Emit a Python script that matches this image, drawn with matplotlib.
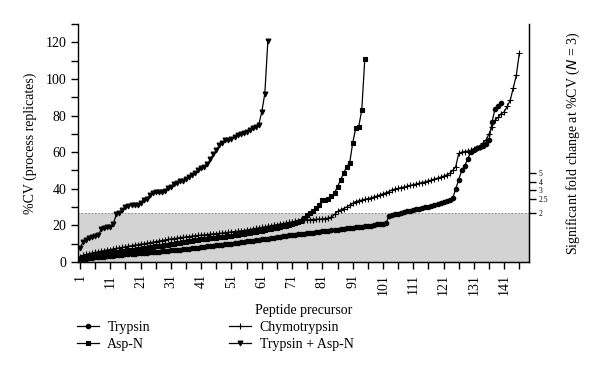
import numpy as np
import matplotlib.pyplot as plt
from matplotlib.ticker import MultipleLocator, FixedLocator

# %CV per peptide precursor, sorted ascending
trypsin = [1.2, 1.6, 1.9, 2.1, 2.3, 2.5, 2.7, 2.9, 3.0, 3.2,
           3.3, 3.5, 3.6, 3.8, 3.9, 4.1, 4.2, 4.4, 4.5, 4.7,
           4.8, 5.0, 5.1, 5.3, 5.4, 5.6, 5.7, 5.9, 6.0, 6.2,
           6.3, 6.5, 6.6, 6.8, 7.0, 7.1, 7.3, 7.5, 7.7, 7.9,
           8.1, 8.3, 8.5, 8.7, 8.9, 9.1, 9.3, 9.5, 9.7, 9.9,
           10.1, 10.3, 10.6, 10.8, 11.0, 11.3, 11.5, 11.7, 12.0, 12.2,
           12.4, 12.6, 12.8, 13.0, 13.3, 13.5, 13.8, 14.0, 14.2, 14.5,
           14.7, 14.9, 15.1, 15.3, 15.5, 15.7, 15.9, 16.1, 16.3, 16.5,
           16.7, 16.9, 17.1, 17.3, 17.5, 17.7, 17.9, 18.1, 18.3, 18.5,
           18.7, 18.9, 19.1, 19.3, 19.5, 19.7, 19.9, 20.2, 20.5, 20.8,
           21.0, 21.3, 25.0, 25.6, 26.0, 26.4, 26.8, 27.2, 27.6, 28.0,
           28.4, 28.7, 29.0, 29.4, 29.8, 30.2, 30.7, 31.2, 31.8, 32.3,
           32.8, 33.4, 34.0, 34.8, 40.0, 45.0, 50.0, 52.5, 56.5, 60.0,
           61.0, 62.0, 62.8, 63.5, 64.5, 66.5, 76.5, 83.8, 85.0, 87.0]

asp_n = [1.5, 2.0, 2.4, 2.7, 3.0, 3.3, 3.6, 3.9, 4.2, 4.5,
         4.8, 5.0, 5.3, 5.5, 5.8, 6.0, 6.3, 6.5, 6.8, 7.0,
         7.3, 7.5, 7.8, 8.0, 8.3, 8.5, 8.8, 9.0, 9.3, 9.5,
         9.8, 10.0, 10.3, 10.5, 10.8, 11.0, 11.3, 11.5, 11.8, 12.0,
         12.3, 12.5, 12.7, 12.9, 13.1, 13.3, 13.5, 13.7, 13.9, 14.1,
         14.4, 14.6, 14.9, 15.1, 15.4, 15.7, 16.0, 16.3, 16.6, 16.9,
         17.2, 17.5, 17.8, 18.1, 18.4, 18.7, 19.0, 19.4, 19.8, 20.3,
         20.8, 21.3, 21.8, 22.3, 24.0, 25.5, 26.7, 28.0, 29.4, 31.2,
         33.9, 34.0, 34.5, 35.8, 37.6, 41.2, 44.8, 48.5, 52.0, 54.0,
         65.0, 73.0, 74.0, 83.0, 111.0]

chymotrypsin = [3.0, 3.6, 4.1, 4.5, 4.9, 5.3, 5.6, 5.9, 6.2, 6.5,
                6.8, 7.1, 7.4, 7.7, 8.0, 8.3, 8.6, 8.9, 9.2, 9.4,
                9.7, 9.9, 10.2, 10.5, 10.8, 11.1, 11.4, 11.7, 12.0, 12.3,
                12.6, 12.8, 13.0, 13.3, 13.5, 13.7, 13.9, 14.1, 14.3, 14.5,
                14.7, 14.8, 15.0, 15.2, 15.3, 15.5, 15.6, 15.8, 16.0, 16.2,
                16.4, 16.6, 16.8, 17.0, 17.2, 17.4, 17.7, 18.0, 18.3, 18.6,
                18.9, 19.2, 19.5, 19.8, 20.1, 20.4, 20.7, 21.0, 21.3, 21.6,
                21.9, 22.2, 22.5, 22.7, 22.9, 23.0, 23.1, 23.2, 23.3, 23.4,
                23.5, 23.7, 24.0, 24.5, 26.0, 27.6, 28.5, 29.2, 30.0, 31.0,
                32.0, 33.0, 33.4, 33.8, 34.2, 34.6, 35.0, 35.5, 36.0, 36.6,
                37.2, 37.8, 38.5, 39.4, 39.8, 40.2, 40.6, 41.0, 41.4, 41.8,
                42.2, 42.6, 43.0, 43.4, 43.8, 44.3, 44.8, 45.3, 45.8, 46.3,
                46.9, 47.5, 48.4, 50.0, 52.0, 59.3, 60.0, 60.3, 60.6, 61.0,
                61.5, 62.0, 63.0, 65.0, 66.6, 70.0, 74.0, 77.5, 79.0, 81.0,
                82.0, 85.0, 88.4, 95.0, 102.0, 114.0]

trypsin_asp_n = [7.6, 11.0, 12.0, 13.0, 13.5, 14.0, 14.5, 18.0, 18.5, 19.0,
                 19.0, 21.0, 26.0, 27.0, 28.5, 30.0, 30.5, 31.0, 31.0, 31.2,
                 32.0, 34.0, 34.5, 36.5, 37.5, 38.0, 38.2, 38.5, 39.0, 40.5,
                 41.0, 42.5, 43.0, 44.0, 44.5, 45.5, 46.5, 47.5, 48.5, 50.0,
                 51.5, 52.0, 53.5, 56.0, 59.0, 61.0, 64.0, 65.0, 66.5, 66.8,
                 67.0, 68.5, 69.5, 70.0, 70.5, 71.0, 72.0, 73.0, 74.0, 75.0,
                 82.0, 92.0, 120.5]

# threshold %CV for 2-fold change, and right-axis fold-change ticks
cv_threshold = 26.7
fold_cv = [26.7, 34.4, 39.3, 43.9, 48.4]
fold_labels = ["2", "2.5", "3", "4", "5"]

plt.rcParams['font.family'] = ['Liberation Serif', 'DejaVu Serif']
plt.rcParams['font.size'] = 10

fig = plt.figure(figsize=(6, 3.73), dpi=100)
ax = fig.add_axes([0.13, 0.2976, 0.7517, 0.6381])

ax.axhspan(0, cv_threshold, color='#d3d3d3', lw=0, zorder=0)
ax.axhline(cv_threshold, color='#808080', ls=(0, (1, 2)), lw=0.8, zorder=1)

series = [
    (trypsin, 'o', 3.2, 'Trypsin'),
    (asp_n, 's', 3.2, 'Asp-N'),
    (chymotrypsin, '+', 4.5, 'Chymotrypsin'),
    (trypsin_asp_n, 'v', 3.5, 'Trypsin + Asp-N'),
]
for vals, mk, ms, lab in series:
    x = np.arange(1, len(vals) + 1)
    ax.plot(x, vals, color='black', lw=0.9, marker=mk, ms=ms, mew=0.8,
            label=lab, zorder=3)

ax.set_xlim(0.34, 149.2)
ax.set_ylim(0, 130)
ax.set_xticks(np.arange(1, 142, 10))
ax.xaxis.set_minor_locator(FixedLocator(np.arange(6, 147, 10)))
ax.set_xticklabels([str(v) for v in range(1, 142, 10)], rotation=90)
ax.set_yticks(np.arange(0, 121, 20))
ax.yaxis.set_minor_locator(MultipleLocator(10))
ax.tick_params(which='both', direction='out', length=5, width=1)
ax.tick_params(axis='x', pad=4)

ax.spines['top'].set_visible(False)
for s in ['left', 'bottom', 'right']:
    ax.spines[s].set_linewidth(1)

ax.set_ylabel('%CV (process replicates)', labelpad=6)
ax.set_xlabel('Peptide precursor', labelpad=6)

ax2 = ax.twinx()
ax2.set_ylim(0, 130)
ax2.set_yticks(fold_cv)
ax2.set_yticklabels(fold_labels, fontsize=5.5)
ax2.tick_params(direction='out', length=5, width=1, pad=2)
ax2.spines['top'].set_visible(False)
ax2.spines['left'].set_visible(False)
ax2.set_ylabel('Significant fold change at %CV ($\\it{N}$ = 3)', labelpad=12)

handles, labels = ax.get_legend_handles_labels()
fig.legend(handles, labels, loc='upper left', bbox_to_anchor=(0.128, 0.139),
           ncol=2, frameon=False, handlelength=1.6, handletextpad=0.6,
           columnspacing=5.7, labelspacing=0.25, borderpad=0,
           borderaxespad=0, fontsize=10)

fig.savefig('out.png', dpi=100)
